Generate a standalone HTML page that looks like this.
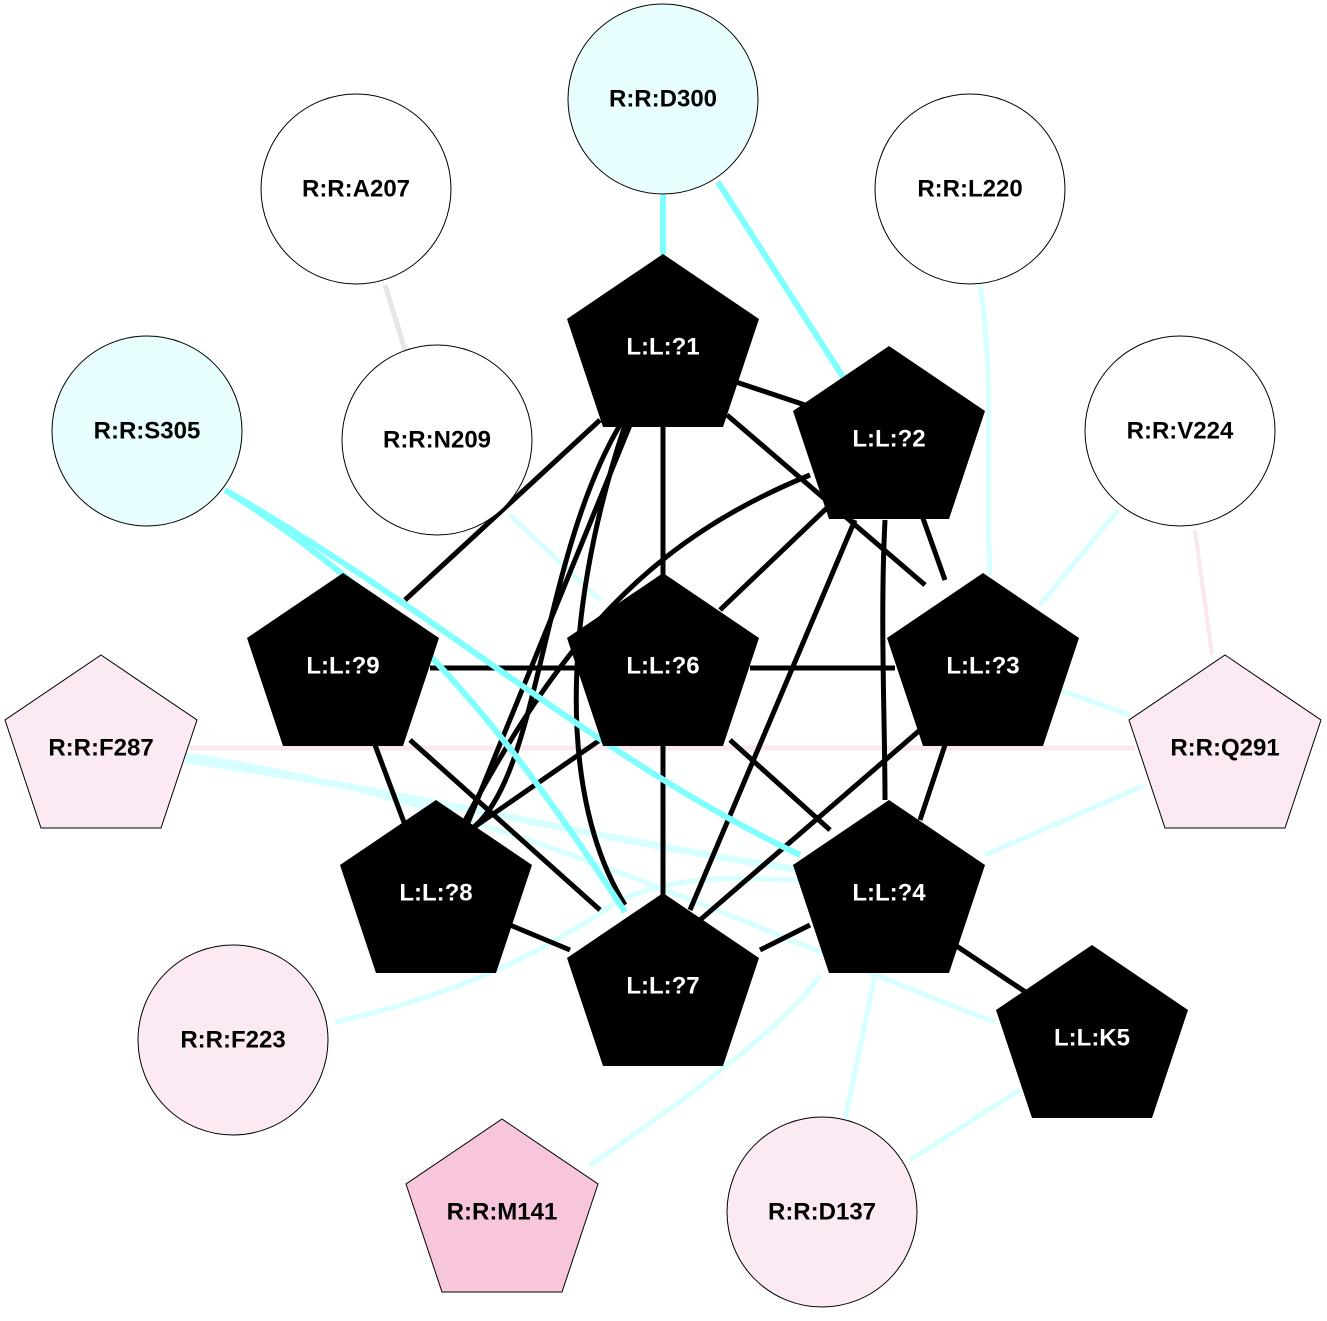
<!DOCTYPE html>
<html><head><meta charset="utf-8"><style>
html,body{margin:0;padding:0;background:#fff;}
svg text{font-family:"Liberation Sans",Arial,sans-serif;font-weight:bold;font-size:24px;text-anchor:middle;dominant-baseline:central;}
</style></head><body>
<svg width="1327" height="1316" viewBox="0 0 1327 1316" xmlns="http://www.w3.org/2000/svg">
<g fill="none" stroke-linecap="butt">
<!-- light edges -->
<g stroke="#d8ffff" stroke-width="5">
<path d="M980,285 C995,380 985,480 990,575"/>
<path d="M1118,510 L1040,605"/>
<path d="M1130,715 L1060,690"/>
<path d="M1145,785 L985,855"/>
<path d="M185,760 C400,790 600,840 800,870" stroke-width="7"/>
<path d="M185,755 C500,800 800,950 995,1022"/>
<path d="M335,1022 C480,990 560,940 620,900 C690,870 760,880 800,880"/>
<path d="M590,1165 C700,1090 790,1020 820,975"/>
<path d="M845,1120 L875,975"/>
<path d="M910,1160 L1020,1090"/>
<path d="M510,515 L600,600"/>
</g>
<path d="M385,285 L405,350" stroke="#e6e6e6" stroke-width="5"/>
<path d="M190,748 L1135,748" stroke="#fbe8ef" stroke-width="5"/>
<path d="M1195,530 L1212,655" stroke="#fbe8ef" stroke-width="4"/>
<!-- black edges -->
<g stroke="#000" stroke-width="5">
<path d="M730,380 L805,405"/>
<path d="M600,420 L405,600"/>
<path d="M663,425 L663,580"/>
<path d="M727,415 L925,585"/>
<path d="M630,425 L465,830"/>
<path d="M620,425 C540,560 540,780 470,830"/>
<path d="M625,425 C560,620 560,800 625,905"/>
<path d="M830,505 L720,610"/>
<path d="M920,510 L945,580"/>
<path d="M885,520 C880,620 885,720 885,800"/>
<path d="M855,520 L690,910"/>
<path d="M810,475 C650,540 560,640 460,830"/>
<path d="M430,668 L575,668"/>
<path d="M750,668 L895,668"/>
<path d="M375,745 L405,825"/>
<path d="M410,740 L600,910"/>
<path d="M663,745 L663,900"/>
<path d="M730,740 L830,830"/>
<path d="M600,740 L470,830"/>
<path d="M945,745 L920,820"/>
<path d="M920,730 L700,920"/>
<path d="M510,925 L570,950"/>
<path d="M760,950 L810,925"/>
<path d="M955,945 L1030,995"/>
</g>
<!-- cyan edges -->
<g stroke="#80ffff" stroke-width="6">
<path d="M663,195 L663,255"/>
<path d="M718,182 L845,380"/>
<path d="M225,490 C400,600 500,720 625,912"/>
<path d="M225,490 C450,620 600,760 800,855"/>
</g>
</g>
<!-- circles -->
<g stroke="#000" stroke-width="1">
<circle cx="663" cy="99" r="95" fill="#e8fefe"/>
<circle cx="356" cy="189" r="95" fill="#fff"/>
<circle cx="970" cy="189" r="95" fill="#fff"/>
<circle cx="147" cy="431" r="95" fill="#e8fefe"/>
<circle cx="437" cy="440" r="95" fill="#fff"/>
<circle cx="1180" cy="431" r="95" fill="#fff"/>
<circle cx="233" cy="1040" r="95" fill="#fbeaf3"/>
<circle cx="822" cy="1212" r="95" fill="#fbeaf3"/>
<polygon points="101,655 197,720 161,828 41,828 5,720" fill="#fbeaf3"/>
<polygon points="1225,655 1321,720 1285,828 1165,828 1129,720" fill="#fbeaf3"/>
<polygon points="502,1119 598,1184 562,1292 442,1292 406,1184" fill="#f7c6dc"/>
</g>
<!-- black pentagons -->
<g fill="#000">
<polygon points="663,254 759,319 723,427 603,427 567,319"/>
<polygon points="889,346 985,411 949,519 829,519 793,411"/>
<polygon points="343,573 439,638 403,746 283,746 247,638"/>
<polygon points="663,573 759,638 723,746 603,746 567,638"/>
<polygon points="983,573 1079,638 1043,746 923,746 887,638"/>
<polygon points="436,800 532,865 496,973 376,973 340,865"/>
<polygon points="889,800 985,865 949,973 829,973 793,865"/>
<polygon points="663,893 759,958 723,1066 603,1066 567,958"/>
<polygon points="1092,945 1188,1010 1152,1118 1032,1118 996,1010"/>
</g>
<g fill="#000">
<text x="663" y="99">R:R:D300</text>
<text x="356" y="189">R:R:A207</text>
<text x="970" y="189">R:R:L220</text>
<text x="147" y="431">R:R:S305</text>
<text x="437" y="440">R:R:N209</text>
<text x="1180" y="431">R:R:V224</text>
<text x="233" y="1040">R:R:F223</text>
<text x="822" y="1212">R:R:D137</text>
<text x="101" y="748">R:R:F287</text>
<text x="1225" y="748">R:R:Q291</text>
<text x="502" y="1212">R:R:M141</text>
</g>
<g fill="#fff">
<text x="663" y="347">L:L:?1</text>
<text x="889" y="439">L:L:?2</text>
<text x="343" y="666">L:L:?9</text>
<text x="663" y="666">L:L:?6</text>
<text x="983" y="666">L:L:?3</text>
<text x="436" y="893">L:L:?8</text>
<text x="889" y="893">L:L:?4</text>
<text x="663" y="986">L:L:?7</text>
<text x="1092" y="1038">L:L:K5</text>
</g>
</svg>
</body></html>
